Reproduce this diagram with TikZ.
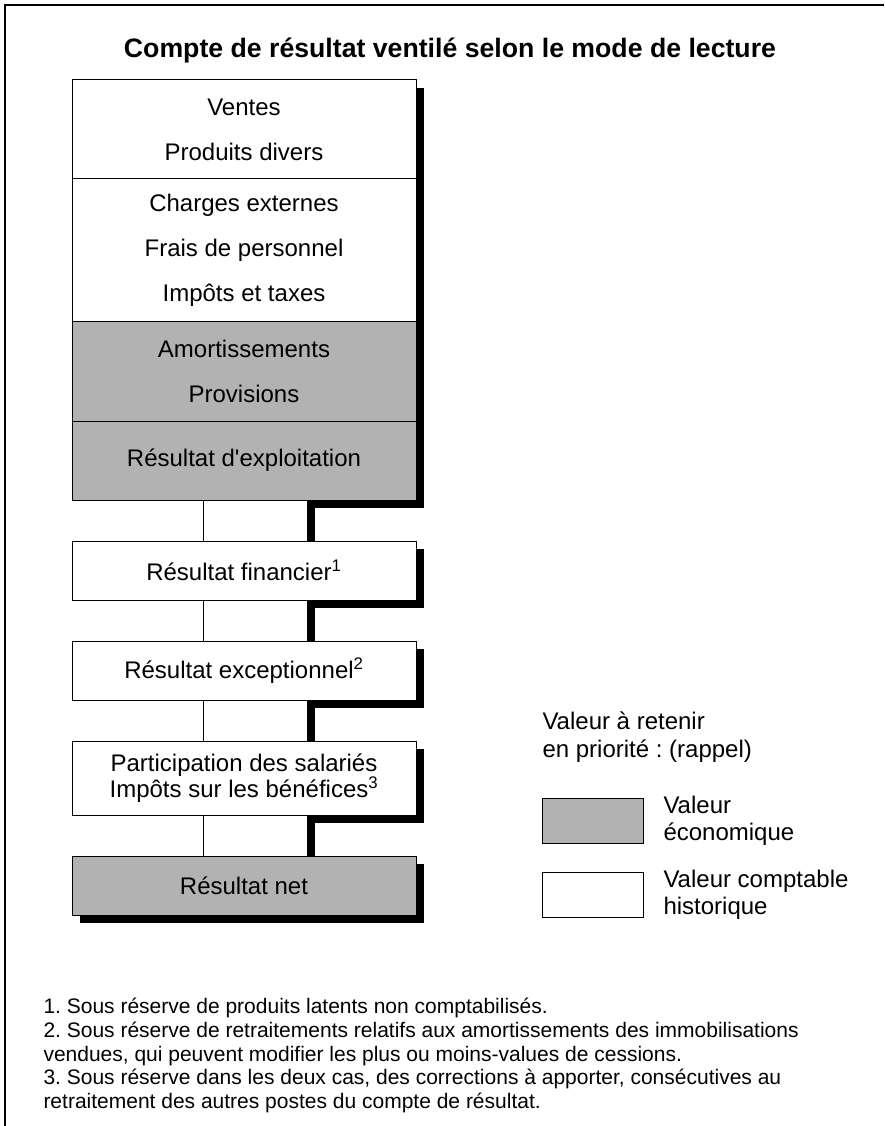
\documentclass[tikz,border=0pt]{standalone}
\usepackage{fontspec}
\setmainfont{Liberation Sans}
\usetikzlibrary{positioning}
\usetikzlibrary{backgrounds}
\definecolor{gris}{gray}{0.7}
\frenchspacing

\begin{document}
\begin{tikzpicture}[x=0.75pt,y=-0.75pt,node distance=0pt,line width=0.75pt,
    poste/.style={rectangle,draw,fill=white,outer sep=0pt,minimum width=258pt,align=center,font=\fontsize{18}{33.75}\selectfont},
    lien/.style={rectangle,draw,fill=white,outer sep=0pt,minimum width=78pt,minimum height=30.75pt},
    legende/.style={rectangle,draw,outer sep=0pt,minimum width=75.75pt,minimum height=33.75pt},
    ombre/.style={fill=black}]

  \useasboundingbox (0,0) rectangle (884,1126);
  \draw[line width=1.5pt] (884,5) -- (5,5) -- (5,1126);

  \node[font=\bfseries\fontsize{20}{24}\selectfont] (titre) at (450,50) {Compte de résultat ventilé selon le mode de lecture};

  % colonne du compte de resultat
  \node[poste,minimum height=74.25pt,anchor=north] (ventes) at (244,80) {Ventes\\Produits divers};
  \node[poste,minimum height=107.25pt] (charges) [below=of ventes] {Charges externes\\Frais de personnel\\Impôts et taxes};
  \node[poste,fill=gris,minimum height=74.25pt] (amort) [below=of charges] {Amortissements\\Provisions};
  \node[poste,fill=gris,minimum height=59.25pt] (exploit) [below=of amort] {Résultat d\textquotesingle exploitation};
  \node[poste,minimum height=44.25pt] (financier) [below=30.75pt of exploit] {Résultat financier\textsuperscript{1}};
  \node[poste,minimum height=44.25pt] (exceptionnel) [below=30.75pt of financier] {Résultat exceptionnel\textsuperscript{2}};
  \node[poste,minimum height=55.5pt,font=\fontsize{18}{19.5}\selectfont] (participation) [below=30.75pt of exceptionnel] {Participation des salariés\\Impôts sur les bénéfices\textsuperscript{3}};
  \node[poste,fill=gris,minimum height=44.25pt] (net) [below=30.75pt of participation] {Résultat net};

  \node[lien] (l1) [below=of exploit,xshift=8.25pt] {};
  \node[lien] (l2) [below=of financier,xshift=8.25pt] {};
  \node[lien] (l3) [below=of exceptionnel,xshift=8.25pt] {};
  \node[lien] (l4) [below=of participation,xshift=8.25pt] {};

  \begin{scope}[on background layer]
    \fill[ombre] ([yshift=-6pt]ventes.north east) rectangle ([xshift=6pt,yshift=-6pt]exploit.south east);
    \foreach \boite/\lien in {exploit/l1,financier/l2,exceptionnel/l3,participation/l4}{
      \fill[ombre] ([yshift=-6pt]\boite.north east) rectangle ([xshift=6pt,yshift=-6pt]\boite.south east);
      \fill[ombre] (\lien.north east) rectangle ([xshift=6pt,yshift=-6pt]\boite.south east);
      \fill[ombre] ([yshift=-6pt]\lien.north east) rectangle ([xshift=6pt,yshift=-6pt]\lien.south east);
    }
    \fill[ombre] ([yshift=-6pt]net.north east) rectangle ([xshift=6pt,yshift=-6pt]net.south east);
    \fill[ombre] ([xshift=6pt]net.south west) rectangle ([xshift=6pt,yshift=-6pt]net.south east);
  \end{scope}

  % legende
  \node[anchor=west,align=left,inner sep=0pt,font=\fontsize{18}{21}\selectfont] (rappel) at (542,737) {Valeur à retenir\\en priorité : (rappel)};
  \node[legende,fill=gris] (eco) at (592.5,820.5) {};
  \node[legende,fill=white] (compta) at (592.5,895) {};
  \node[right=15pt of eco,align=left,inner sep=0pt,font=\fontsize{18}{20.25}\selectfont] (ecotxt) {Valeur\\économique};
  \node[right=15pt of compta,align=left,inner sep=0pt,font=\fontsize{18}{20.25}\selectfont] (comptatxt) {Valeur comptable\\historique};

  \node[anchor=north west,inner sep=0pt,align=left,font=\fontsize{15.75}{17.75}\selectfont] (notes) at (43,998) {1. Sous réserve de produits latents non comptabilisés.\\2. Sous réserve de retraitements relatifs aux amortissements des immobilisations\\vendues, qui peuvent modifier les plus ou moins-values de cessions.\\3. Sous réserve dans les deux cas, des corrections à apporter, consécutives au\\retraitement des autres postes du compte de résultat.};
\end{tikzpicture}
\end{document}
